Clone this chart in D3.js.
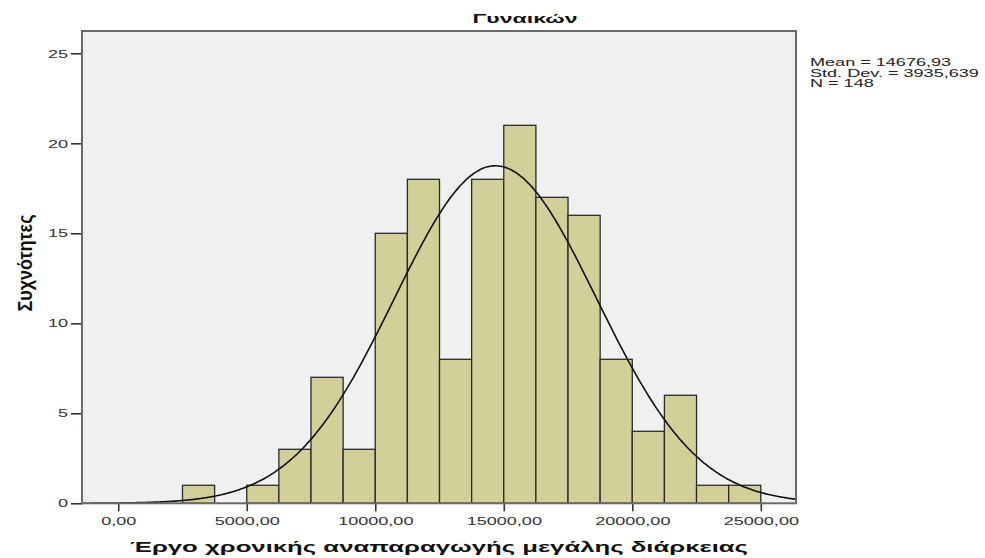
<!DOCTYPE html>
<html>
<head>
<meta charset="utf-8">
<script src="https://cdn.jsdelivr.net/npm/d3@7"></script>
<style>
  body { margin: 0; background: #fff; }
  svg { display: block; }
  text { font-family: "Liberation Sans", Arial, sans-serif; }
</style>
</head>
<body>
<svg id="chart" width="985" height="558"></svg>
<script>
// Histogram bins (lower edges) and frequencies
const binStarts = [2500, 3750, 5000, 6250, 7500, 8750, 10000, 11250, 12500, 13750,
                   15000, 16250, 17500, 18750, 20000, 21250, 22500, 23750];
const counts    = [1, 0, 1, 3, 7, 3, 15, 18, 8, 18, 21, 17, 16, 8, 4, 6, 1, 1];
const binWidth = 1250;

// Fitted normal summary
const mean = 14676.93;
const sd = 3935.639;
const n = 148;

// Axis ticks and texts
const xTicks = [0, 5000, 10000, 15000, 20000, 25000];
const yTicks = [0, 5, 10, 15, 20, 25];
const xDomain = [-1410, 26370];
const yDomain = [0, 26.24];
const title = "Γυναικών";
const xTitle = "Έργο χρονικής αναπαραγωγής μεγάλης διάρκειας";
const yTitle = "Συχνότητες";
const statLines = ["Mean = 14676,93", "Std. Dev. = 3935,639", "N = 148"];

const svg = d3.select("#chart");
const plot = { left: 82, right: 796, top: 31, bottom: 503.3 };

const x = d3.scaleLinear().domain(xDomain).range([plot.left, plot.right]);
const y = d3.scaleLinear().domain(yDomain).range([plot.bottom, plot.top]);

const locale = d3.formatLocale({ decimal: ",", thousands: ".", grouping: [3], currency: ["", ""] });
const fmt2 = locale.format(".2f");

// Widen glyphs horizontally by factor k
function stretch(sel, k) {
  sel.each(function () {
    const w = this.getComputedTextLength();
    this.setAttribute("textLength", w * k);
    this.setAttribute("lengthAdjust", "spacingAndGlyphs");
  });
}

// Plot background
svg.append("rect")
  .attr("x", plot.left).attr("y", plot.top)
  .attr("width", plot.right - plot.left).attr("height", plot.bottom - plot.top)
  .attr("fill", "#f0f0f0");

// Bars
const bins = binStarts.map((s, i) => ({ x0: s, x1: s + binWidth, count: counts[i] }))
  .filter(d => d.count > 0);

svg.append("g").selectAll("rect")
  .data(bins)
  .join("rect")
  .attr("x", d => x(d.x0))
  .attr("y", d => y(d.count))
  .attr("width", d => x(d.x1) - x(d.x0))
  .attr("height", d => y(0) - y(d.count))
  .attr("fill", "#d3cf98")
  .attr("stroke", "#2a2a2a")
  .attr("stroke-width", 1.3);

// Normal curve scaled to counts
const scale = n * binWidth / (sd * Math.sqrt(2 * Math.PI));
const curvePts = d3.range(0, 301).map(i => {
  const v = xDomain[0] + (xDomain[1] - xDomain[0]) * i / 300;
  const z = (v - mean) / sd;
  return [v, scale * Math.exp(-0.5 * z * z)];
});
svg.append("path")
  .datum(curvePts)
  .attr("fill", "none")
  .attr("stroke", "#111")
  .attr("stroke-width", 1.6)
  .attr("d", d3.line().x(d => x(d[0])).y(d => y(d[1])).curve(d3.curveBasis));

// Axes
const xAxis = svg.append("g")
  .attr("transform", `translate(0,${plot.bottom})`)
  .call(d3.axisBottom(x).tickValues(xTicks).tickSize(8).tickPadding(6).tickFormat(fmt2));
xAxis.select(".domain").remove();
xAxis.selectAll("line").attr("stroke", "#333").attr("stroke-width", 1.6);
xAxis.selectAll("text")
  .attr("fill", "#333").style("font-size", "11.5px")
  .call(stretch, 1.57);

const yAxis = svg.append("g")
  .attr("transform", `translate(${plot.left},0)`)
  .call(d3.axisLeft(y).tickValues(yTicks).tickSize(11).tickPadding(3).tickFormat(d3.format("d")));
yAxis.select(".domain").remove();
yAxis.selectAll("line").attr("stroke", "#333").attr("stroke-width", 1.6);
yAxis.selectAll("text")
  .attr("fill", "#333").style("font-size", "11.5px")
  .call(stretch, 1.57);

// Frame
svg.append("rect")
  .attr("x", plot.left).attr("y", plot.top)
  .attr("width", plot.right - plot.left).attr("height", plot.bottom - plot.top)
  .attr("fill", "none")
  .attr("stroke", "#6a6a6a")
  .attr("stroke-width", 2);

// Title
svg.append("text")
  .attr("x", 525).attr("y", 23.3)
  .attr("text-anchor", "middle")
  .style("font-size", "12.5px").style("font-weight", "bold")
  .attr("fill", "#111")
  .attr("textLength", 105).attr("lengthAdjust", "spacingAndGlyphs")
  .text(title);

// Axis titles
svg.append("text")
  .attr("x", 439).attr("y", 552)
  .attr("text-anchor", "middle")
  .style("font-size", "14px").style("font-weight", "bold")
  .attr("fill", "#111")
  .attr("textLength", 618).attr("lengthAdjust", "spacingAndGlyphs")
  .text(xTitle);

svg.append("text")
  .attr("transform", "translate(32,263) rotate(-90)")
  .attr("text-anchor", "middle")
  .style("font-size", "21px").style("font-weight", "bold")
  .attr("fill", "#111")
  .attr("textLength", 97).attr("lengthAdjust", "spacingAndGlyphs")
  .text(yTitle);

// Summary statistics
svg.append("g").selectAll("text")
  .data(statLines)
  .join("text")
  .attr("x", 810)
  .attr("y", (d, i) => 66 + i * 10.5)
  .style("font-size", "10.5px")
  .attr("fill", "#222")
  .text(d => d)
  .call(stretch, 1.72);
</script>
</body>
</html>
